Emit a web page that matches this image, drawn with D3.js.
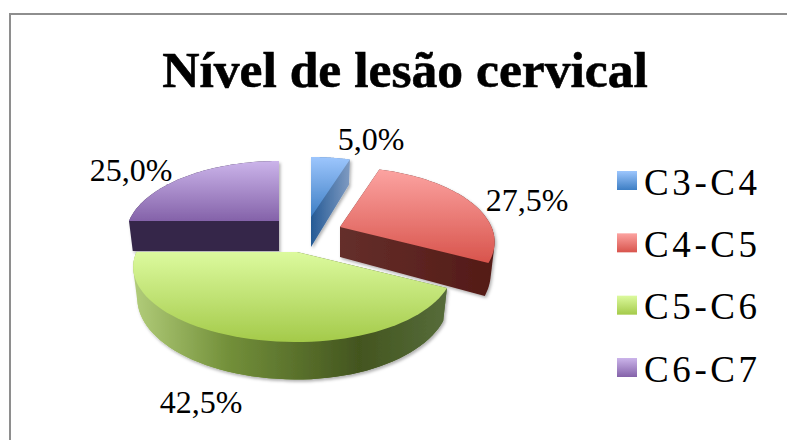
<!DOCTYPE html>
<html><head><meta charset="utf-8">
<script src="https://cdn.jsdelivr.net/npm/d3@7/dist/d3.min.js"></script>
<style>html,body{margin:0;padding:0;background:#fff}svg{display:block}</style>
</head><body>
<svg id="c" width="787" height="440"></svg>
<script>
const categories = ["C3-C4","C4-C5","C5-C6","C6-C7"];
const values = [5.0,27.5,42.5,25.0];
const titleText = "Nível de lesão cervical";
const topColors = [["#9dc6fd","#3d7ec4"],["#fca3a1","#d8544c"],["#dcfa9e","#a4ca4a"],["#cbb4ea","#8462a9"]];
const sideStops = [
  [[0,"#255a95"],[1,"#7f9bc2"]],
  [[0,"#652f2b"],[1,"#531a16"]],
  [[0,"#b2cd7a"],[0.3,"#73903a"],[0.72,"#43551f"],[1,"#566c3a"]],
  [[0,"#35264a"],[1,"#35264a"]]
];
// explosion anchors for each slice
const apexX = [311,340,297,279], apexY = [217,227,252,221];
const leftStretch = [1,1,1.07,1], rightStretch = [1,1.01,1.02,1];
const labelX = [371,527,201,131], labelY = [150,211,413,181];

const svg = d3.select("#c");
const defs = svg.append("defs");
const Rx=150, Ry=72, K=0.2, H=30, bottomInset=0.975;
const f = defs.append("filter").attr("id","sh").attr("x","-10%").attr("y","-10%").attr("width","125%").attr("height","125%");
f.append("feDropShadow").attr("dx",1.5).attr("dy",2).attr("stdDeviation",1.5).attr("flood-color","#000").attr("flood-opacity",0.3);

svg.append("path").attr("d","M10,440V14H787").attr("fill","none").attr("stroke","#8e8e8e").attr("stroke-width",2);

const pie = d3.pie().sort(null).value(d=>d);
const arcs = pie(values);

function proj(i,t,z){
  const s=Math.sin(t), c=Math.cos(t), w=1+K*c;
  let x=Rx*s/w; x*= x<0 ? leftStretch[i] : rightStretch[i];
  if(z>0) x*=bottomInset;
  return [apexX[i]+x, apexY[i]-Ry*c/w+z/w];
}
const line = d3.line();
const order=[0,3,1,2];
categories.forEach((_,i)=>{
  const g=defs.append("linearGradient").attr("id","t"+i).attr("x1",0).attr("y1",0).attr("x2",0).attr("y2",1);
  g.append("stop").attr("offset",0).attr("stop-color",topColors[i][0]);
  g.append("stop").attr("offset",1).attr("stop-color",topColors[i][1]);
  const g2=defs.append("linearGradient").attr("id","s"+i).attr("x1",0).attr("y1",0).attr("x2",1).attr("y2",0);
  sideStops[i].forEach(s=>g2.append("stop").attr("offset",s[0]).attr("stop-color",s[1]));
});
order.forEach(i=>{
  const a=arcs[i];
  const ts=d3.range(0,61).map(n=>a.startAngle+(a.endAngle-a.startAngle)*n/60);
  const apex=[apexX[i],apexY[i]];
  const top=[apex,...ts.map(t=>proj(i,t,0))];
  const bottom=[[apex[0],apex[1]+H],...ts.map(t=>proj(i,t,H))];
  const hull=d3.polygonHull(top.concat(bottom));
  const g=svg.append("g").attr("filter","url(#sh)");
  // extruded body: outer wall plus both cut faces
  g.append("path").attr("d",line(hull)+"Z").attr("fill",`url(#s${i})`);
  if(i===2){
    g.append("path").attr("d",line([...ts.map(t=>proj(i,t,0)),...ts.slice().reverse().map(t=>proj(i,t,H))])+"Z").attr("fill",`url(#s${i})`);
  }
  g.append("path").attr("d",line(top)+"Z").attr("fill",`url(#t${i})`);
});

svg.append("text").attr("x",405).attr("y",87).attr("text-anchor","middle")
  .attr("font-family","'Liberation Serif',serif").attr("font-weight","bold").attr("font-size",51.6)
  .attr("fill","#000").attr("stroke","#000").attr("stroke-width",0.6).text(titleText);

values.forEach((v,i)=>{
  svg.append("text").attr("x",labelX[i]).attr("y",labelY[i]).attr("text-anchor","middle")
    .attr("font-family","'Liberation Serif',serif").attr("font-size",32).attr("fill","#000")
    .text(v.toFixed(1).replace(".",",")+"%");
});

const yLeg=d3.scalePoint().domain(categories).range([171,358]);
const lg=svg.append("g");
categories.forEach((c,i)=>{
  lg.append("rect").attr("x",617).attr("y",yLeg(c)).attr("width",20).attr("height",19).attr("fill",`url(#t${i})`);
  lg.append("text").attr("x",644).attr("y",yLeg(c)+23.5).attr("font-family","'Liberation Serif',serif")
    .attr("font-size",37).attr("letter-spacing",3.6).attr("fill","#000").text(c);
});
</script>
</body></html>
